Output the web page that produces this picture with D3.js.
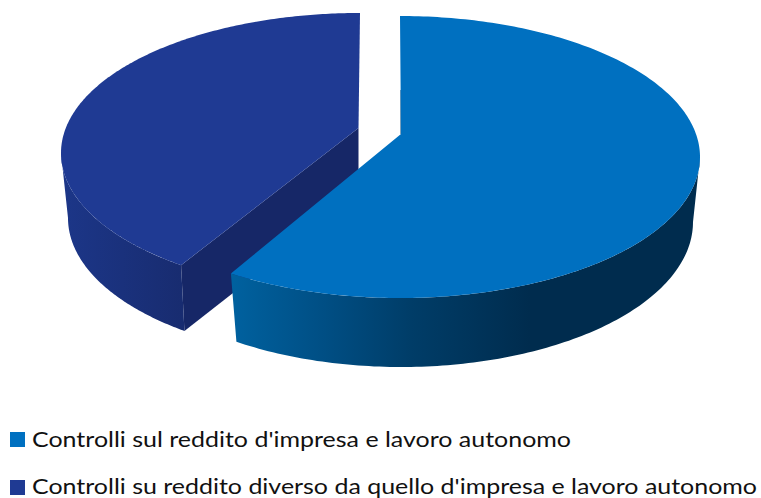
<!DOCTYPE html>
<html><head><meta charset="utf-8">
<script src="https://cdn.jsdelivr.net/npm/d3@7/dist/d3.min.js"></script>
<style>html,body{margin:0;padding:0;background:#fff}svg{display:block}</style>
</head><body>
<script>
const categories = ["Controlli sul reddito d'impresa e lavoro autonomo",
                    "Controlli su reddito diverso da quello d'impresa e lavoro autonomo"];
const values = [59.9, 40.1];
const topColors = ["#0070c0", "#1f3a93"];
const wallColors = ["#002c4e", "#162767"];

const W = 761, H = 498;
const svg = d3.select("body").append("svg").attr("width", W).attr("height", H);
const defs = svg.append("defs");

const TAU = 2 * Math.PI;
const geom = [
  {top:{cx:400,cy:157,rx:300,ry:141}, bot:{cx:401,cy:222,rx:292,ry:145}, apex:[401,134], apexBot:[401,200], trimStart:0, trimEnd:-0.0037*TAU},
  {top:{cx:360,cy:153,rx:299,ry:140}, bot:{cx:358,cy:218,rx:290,ry:141}, apex:[358.5,128], apexBot:[358.5,195], trimStart:0.0031*TAU, trimEnd:0}
];

const arcs = d3.pie().sort(null).value(d => d)(values);
const pt = (e, a) => [e.cx + e.rx * Math.sin(a), e.cy - e.ry * Math.cos(a)];
const samples = (a0, a1, n = 120) => d3.range(n + 1).map(i => a0 + (a1 - a0) * i / n);
const line = d3.line();

const grads = [
  {id:"sideBlue", x1:232, x2:530, stops:[[0,"#00619f"],[.3,"#004f85"],[.6,"#003d68"],[1,"#002c4e"]]},
  {id:"sideDark", x1:62, x2:183, stops:[[0,"#1c3688"],[1,"#182c70"]]}
];
grads.forEach(g => {
  const lg = defs.append("linearGradient").attr("id", g.id)
    .attr("gradientUnits", "userSpaceOnUse").attr("x1", g.x1).attr("x2", g.x2).attr("y1", 0).attr("y2", 0);
  g.stops.forEach(s => lg.append("stop").attr("offset", s[0]).attr("stop-color", s[1]));
});

function drawSlice(i) {
  const g = geom[i], a = arcs[i];
  const start = a.startAngle + g.trimStart, end = a.endAngle + g.trimEnd;
  const layer = svg.append("g");
  if (i === 1) {
    const t = pt(g.top, start), b = pt(g.bot, start);
    layer.append("path").attr("d", line([g.apex, t, b, g.apexBot]) + "Z").attr("fill", wallColors[1]);
  } else {
    const t = pt(g.top, start);
    layer.append("path").attr("d", line([[t[0] + 1, 90], g.apex]))
      .attr("stroke", "#0a4a7a").attr("stroke-width", 1).attr("fill", "none");
  }
  const w0 = i === 0 ? Math.PI / 2 : start;
  const w1 = i === 0 ? end : 3 * Math.PI / 2;
  const outer = samples(w0, w1).map(t => pt(g.top, t))
    .concat(samples(w1, w0).map(t => pt(g.bot, t)));
  layer.append("path").attr("d", line(outer) + "Z")
    .attr("fill", i === 0 ? "url(#sideBlue)" : "url(#sideDark)");
  const face = [g.apex].concat(samples(start, end, 240).map(t => pt(g.top, t)));
  layer.append("path").attr("d", line(face) + "Z").attr("fill", topColors[i]);
}
drawSlice(1);
drawSlice(0);

const legY = d3.scalePoint().domain(categories).range([447, 495]);
const legW = [539, 725];
const legend = svg.append("g");
categories.forEach((c, i) => {
  const y = legY(c);
  legend.append("rect").attr("x", 10).attr("y", y - 15).attr("width", 15).attr("height", 15).attr("fill", topColors[i]);
  legend.append("text").attr("x", 32).attr("y", i === 1 ? y - 1.5 : y)
    .attr("font-family", "Lato, sans-serif").attr("font-size", 22).attr("fill", "#111")
    .attr("textLength", legW[i]).attr("lengthAdjust", "spacingAndGlyphs").text(c);
});
</script>
</body></html>
